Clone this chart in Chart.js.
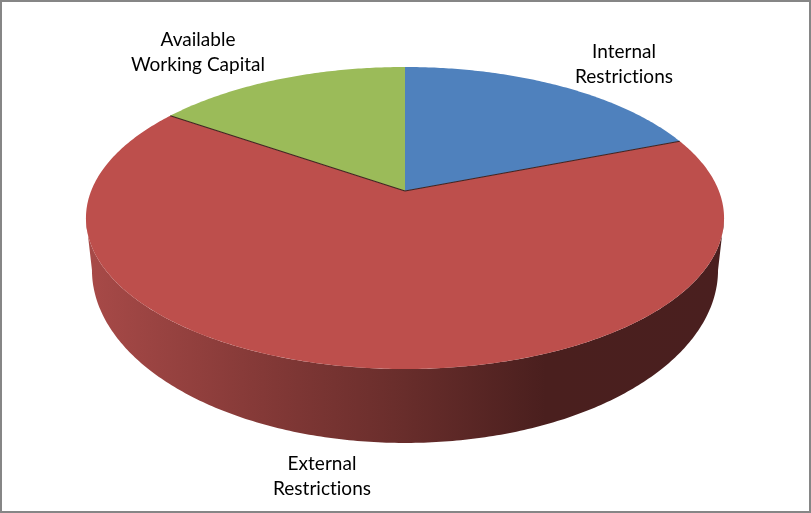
<!DOCTYPE html>
<html>
<head>
<meta charset="utf-8">
<title>Working capital pie</title>
<script src="https://cdn.jsdelivr.net/npm/chart.js@4/dist/chart.umd.min.js"></script>
<style>
  html, body { margin: 0; padding: 0; background: #fff; }
  canvas { display: block; }
</style>
</head>
<body>
<canvas id="pie" width="811" height="513"></canvas>
<script>
// Values (percent of the pie)
const categories = ['Internal Restrictions', 'External Restrictions', 'Available Working Capital'];
const shares = [19.1, 65.5, 15.4];
const sliceColors = ['#4F81BD', '#BD4F4C', '#9BBB59'];

// Label lines, same order as categories
const labelLines = [['Internal', 'Restrictions'], ['External', 'Restrictions'], ['Available', 'Working Capital']];
const labelCenters = [[624, 52], [322, 464], [198, 40]];

// Perspective of the pie top (apex is not the middle of the ellipse)
const tilt = -0.1788;
const topFace = { x: 405, y: 191, rx: 313.9, ry: 146.2 };
const bottomFace = { x: 405, y: 239, rx: 308, ry: 167.5 };

// theta is measured clockwise from 12 o'clock
function project(face, theta) {
  const px = Math.sin(theta), py = -Math.cos(theta);
  const w = 1 + tilt * py;
  return [face.x + face.rx * px / w, face.y + face.ry * py / w];
}

function traceRim(ctx, face, from, to) {
  const steps = Math.max(2, Math.ceil(Math.abs(to - from) * 90));
  for (let i = 0; i <= steps; i++) {
    const p = project(face, from + (to - from) * i / steps);
    ctx.lineTo(p[0], p[1]);
  }
}

const pie3d = {
  id: 'pie3d',
  beforeDatasetDraw(chart, args) {
    const ctx = chart.ctx;
    const arcs = args.meta.data;
    const toTheta = a => a + Math.PI / 2;

    // side wall, widest points of the rim on both sides
    const wallFrom = Math.acos(tilt), wallTo = 2 * Math.PI - wallFrom;
    const wall = ctx.createLinearGradient(86, 0, 724, 0);
    wall.addColorStop(0, '#A84A48');
    wall.addColorStop(0.26, '#863A38');
    wall.addColorStop(0.5, '#682D2B');
    wall.addColorStop(0.72, '#4A1F1E');
    wall.addColorStop(1, '#4A1F1F');
    ctx.save();
    ctx.beginPath();
    traceRim(ctx, topFace, wallFrom, wallTo);
    traceRim(ctx, bottomFace, wallTo, wallFrom);
    ctx.closePath();
    ctx.fillStyle = wall;
    ctx.fill();

    // top face, angles come from the arc elements
    arcs.forEach(arc => {
      ctx.beginPath();
      ctx.moveTo(topFace.x, topFace.y);
      traceRim(ctx, topFace, toTheta(arc.startAngle), toTheta(arc.endAngle));
      ctx.closePath();
      ctx.fillStyle = arc.options.backgroundColor;
      ctx.fill();
    });

    // dark seams on the big slice
    const big = arcs[1];
    ctx.strokeStyle = '#3F2320';
    ctx.lineWidth = 1.2;
    [big.startAngle, big.endAngle].forEach(a => {
      const p = project(topFace, toTheta(a));
      ctx.beginPath();
      ctx.moveTo(topFace.x, topFace.y);
      ctx.lineTo(p[0], p[1]);
      ctx.stroke();
    });
    ctx.restore();
    return false;
  },
  afterDraw(chart) {
    const ctx = chart.ctx;
    ctx.save();
    ctx.fillStyle = '#000';
    ctx.font = '19px Lato';
    ctx.letterSpacing = '0.01px'; // stops the "ti" ligature
    ctx.textAlign = 'center';
    ctx.textBaseline = 'middle';
    labelLines.forEach((lines, i) => {
      lines.forEach((line, j) => {
        ctx.fillText(line, labelCenters[i][0], labelCenters[i][1] + j * 25);
      });
    });
    // outer frame
    ctx.strokeStyle = '#868686';
    ctx.lineWidth = 2;
    ctx.strokeRect(1, 1, 809, 511);
    ctx.restore();
  }
};

new Chart(document.getElementById('pie'), {
  type: 'pie',
  data: {
    labels: categories,
    datasets: [{ data: shares, backgroundColor: sliceColors, borderWidth: 0 }]
  },
  options: {
    responsive: false,
    animation: false,
    plugins: {
      legend: { display: false },
      tooltip: { enabled: false }
    }
  },
  plugins: [pie3d]
});
</script>
</body>
</html>
